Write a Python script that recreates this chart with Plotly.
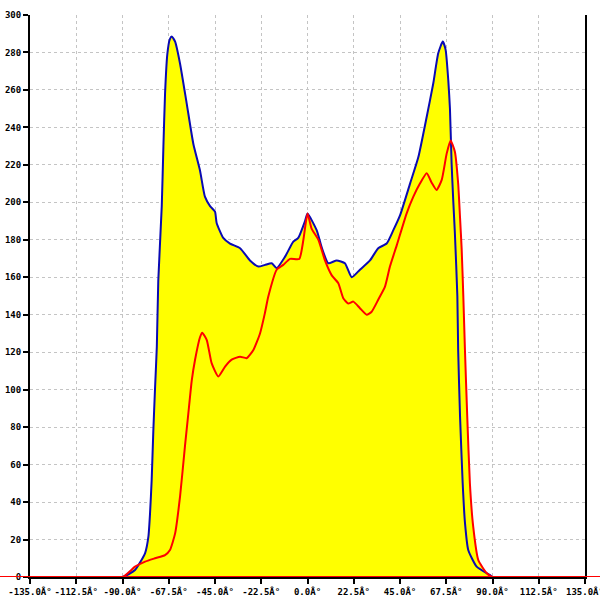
import plotly.graph_objects as go

# angle (deg) / count pairs
blue_angles = [-135, -90, -83.9, -79, -77.4, -76.6, -75.8, -75, -74.2, -73.3, -72.6,
               -70.9, -70.1, -69.3, -68.2, -67, -66, -64.4, -62, -58.8, -55.5, -52.3,
               -49.9, -47.4, -45, -44.2, -41, -37.7, -32.8, -28, -23.9, -20.7, -17.4,
               -15, -10.9, -6.9, -4.5, -1.2, 0, 4.5, 6.9, 10.1, 14.2, 18.2, 21.5, 25.5,
               30.4, 34.4, 38.5, 41.7, 45, 49.9, 53.9, 58, 61.2, 63.6, 65.8, 67.2, 68.5,
               69.3, 70.1, 70.9, 71.7, 72.9, 73.3, 74.2, 75.5, 76.6, 78.2, 82.3, 88.8,
               90, 135]
blue_counts = [0, 0, 3.7, 12.8, 21.5, 34, 52, 78, 100, 123, 158,
               198, 230, 258, 279, 287, 288.5, 285.8, 274, 253, 231, 217,
               203, 198, 195, 189, 181, 178, 175.5, 169, 165.7, 166.6, 167.5,
               164.8, 171, 179, 181, 190, 194, 185, 176, 167.5, 169, 167.5, 160, 164,
               169, 175.5, 178, 185, 193, 210, 224, 245.7, 263.6, 279.6, 285.8, 281.4, 265,
               250, 221, 201, 183.5, 150, 121, 86, 50, 29, 14.4, 5.5, 1,
               0, 0]

red_angles = [-135, -90, -83.9, -79, -74.2, -69.3, -66.9, -64.4, -62, -59.6, -58,
              -56.3, -54.7, -52.3, -51.2, -49, -46.6, -43.4, -40.1, -36.9, -32.8,
              -29.6, -26.4, -23.1, -20.7, -19.1, -15, -11.8, -8.5, -4, -2, 0, 2, 5.3,
              8.5, 11.8, 15, 17.4, 19.8, 22.3, 25.5, 28.8, 31.2, 34.4, 37.7, 40.1,
              43.4, 48.2, 51.5, 54.7, 58, 60.4, 62.8, 65.3, 67.7, 69.6, 71.7, 73.3,
              74.2, 75, 75.8, 76.6, 77.7, 79, 80.6, 83.1, 87.2, 90, 135]
red_counts = [0, 0, 5.5, 8.2, 10, 11.7, 14.4, 23.3, 43, 70, 87,
              105, 116, 128, 130.4, 126.5, 114, 107, 112.3, 116, 117.6,
              116.8, 121, 130, 141, 149.6, 164, 166.6, 169.8, 169.8, 180, 194, 186, 180,
              169, 161, 156.8, 148.8, 146, 147, 143.5, 140, 141.6, 148, 155, 165.7,
              177, 194, 203, 210, 215.5, 210.5, 206.6, 212, 226, 233, 227, 210,
              192, 175, 150, 121, 86, 50, 27, 9, 2, 0, 0]

tick_vals = [-135, -112.5, -90, -67.5, -45, -22.5, 0, 22.5, 45, 67.5, 90, 112.5, 135]
tick_text = ["%.1f\u00c2\u00b0" % v for v in tick_vals]

YELLOW = "#ffff00"
BLUE = "#0a0ab4"
RED = "#ff0000"

fig = go.Figure()
# fills first so both lines stay on top
fig.add_trace(go.Scatter(x=blue_angles, y=blue_counts, mode="lines", fill="tozeroy",
                         fillcolor=YELLOW, line=dict(width=0, shape="spline", smoothing=0.5),
                         hoverinfo="skip"))
fig.add_trace(go.Scatter(x=red_angles, y=red_counts, mode="lines", fill="tozeroy",
                         fillcolor=YELLOW, line=dict(width=0, shape="spline", smoothing=0.5),
                         hoverinfo="skip"))
fig.add_trace(go.Scatter(x=blue_angles, y=blue_counts, mode="lines",
                         line=dict(color=BLUE, width=2, shape="spline", smoothing=0.5)))
fig.add_trace(go.Scatter(x=red_angles, y=red_counts, mode="lines",
                         line=dict(color=RED, width=2, shape="spline", smoothing=0.5)))

# red baseline runs past both axes in the reference
fig.add_shape(type="line", xref="paper", yref="y", x0=-30 / 555, x1=1 + 15 / 555,
              y0=0, y1=0, line=dict(color=RED, width=2), layer="above")

font = dict(family="DejaVu Sans Mono", size=9, color="black", weight="bold")
fig.update_layout(
    width=600, height=600,
    margin=dict(l=30, r=15, t=15, b=23),
    paper_bgcolor="white", plot_bgcolor="white",
    showlegend=False,
    font=font,
)
fig.update_xaxes(range=[-135, 135], tickvals=tick_vals, ticktext=tick_text,
                 tickangle=0, ticklabeloverflow="allow",
                 showgrid=True, gridcolor="#c4c4c4", griddash="3px,3px", gridwidth=1,
                 showline=True, linecolor="black", linewidth=2,
                 ticks="outside", ticklen=5, tickcolor="black", tickwidth=2,
                 zeroline=False, automargin=False, tickfont=font)
fig.update_yaxes(range=[0, 300], dtick=20, tick0=0,
                 showgrid=True, gridcolor="#c4c4c4", griddash="3px,3px", gridwidth=1,
                 showline=True, linecolor="black", linewidth=2, mirror=True,
                 ticks="outside", ticklen=5, tickcolor="black", tickwidth=2,
                 zeroline=False, automargin=False, tickfont=font)

# drop the browser's default body margin so the figure sits at the window corner
fig.write_html("out.html", config={"displayModeBar": False},
               post_script="document.body.style.margin='0';")
